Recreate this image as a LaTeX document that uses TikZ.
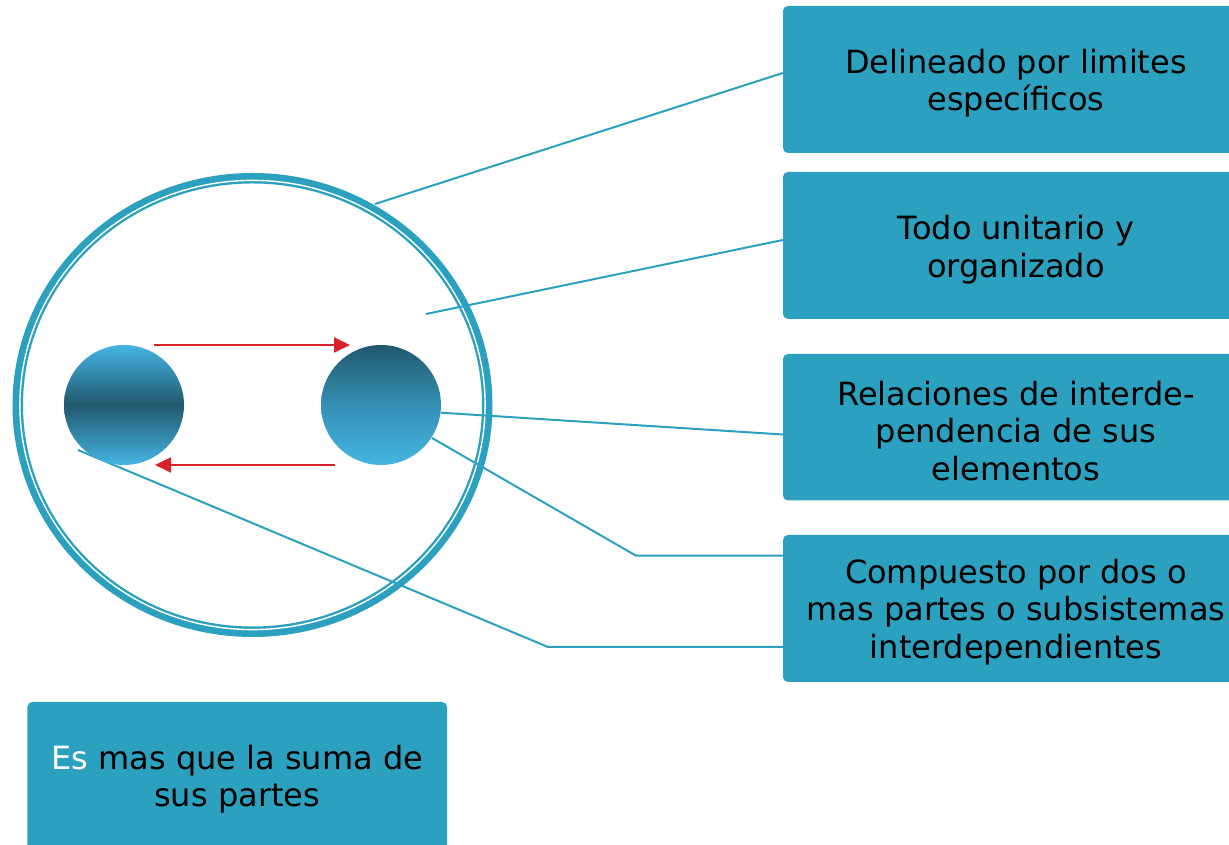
\documentclass[tikz,border=0pt]{standalone}
\usepackage{fontspec}
\setmainfont{DejaVu Sans}
\usetikzlibrary{arrows.meta,calc}
\definecolor{tealbox}{HTML}{2CA1BF}
\definecolor{tealline}{HTML}{2CA1BF}
\definecolor{arrowred}{HTML}{D7222A}
\definecolor{balllight}{HTML}{45B5E3}
\definecolor{balldark}{HTML}{21586E}
\definecolor{ballmid}{HTML}{3590B5}
\begin{document}
\begin{tikzpicture}[x=1pt,y=1pt,
  box/.style={fill=tealbox, draw=none, rounded corners=5pt, inner sep=0pt},
  boxtext/.style={text=black, align=center, font=\fontsize{32}{37.5}\selectfont, inner sep=0pt},
  conn/.style={draw=tealline, line width=2pt},
  redarrow/.style={draw=arrowred, line width=2pt, -{Triangle[length=16pt,width=15pt,fill=arrowred]}}]
\useasboundingbox (0,0) rectangle (1229,845);
\clip (0,0) rectangle (1229,845);

% boxes
\node[box, minimum width=466pt, minimum height=147pt] (b1) at (1016,765.5) {};
\node[box, minimum width=466pt, minimum height=147pt] (b2) at (1016,599.5) {};
\node[box, minimum width=466pt, minimum height=146.5pt] (b3) at (1016,417.75) {};
\node[box, minimum width=466pt, minimum height=147pt] (b4) at (1016,236.5) {};
\node[box, minimum width=419.7pt, minimum height=150pt] (b5) at (237.2,68) {};

\node[boxtext] (t1) at ([yshift=-3.5pt]b1.center) {Delineado por limites\\específicos};
\node[boxtext] (t2) at ([yshift=-4pt]b2.center) {Todo unitario y\\organizado};
\node[boxtext] (t3) at ([yshift=-3.5pt]b3.center) {Relaciones de interde-\\pendencia de sus\\elementos};
\node[boxtext] (t4) at ([yshift=-3.5pt]b4.center) {Compuesto por dos o\\mas partes o subsistemas\\interdependientes};
\node[boxtext] (t5) at ([yshift=-2pt]b5.center) {{\color{white}Es} mas que la suma de\\sus partes};

% big ring
\coordinate (rc) at (252.5,440);
\draw[draw=tealline, line width=10.5pt] (rc) ellipse [x radius=234.75, y radius=226.75];
\draw[draw=white, line width=1.4pt] (rc) ellipse [x radius=232.6, y radius=224.6];

% connector start points
\coordinate (s1) at (375,641);
\coordinate (s2) at (426,531);
\coordinate (s3) at (441,432.3);
\coordinate (s4) at (432,407);
\coordinate (k4) at (636,289.3);
\coordinate (s5) at (78,395);
\coordinate (k5) at (548,198);

\draw[conn] (s1) -- ([yshift=6.5pt]b1.west);
\draw[conn] (s2) -- ([yshift=5.5pt]b2.west);
\draw[conn] (s3) -- ([yshift=-7.25pt]b3.west);
\draw[conn] (s4) -- (k4) -- (b4.west |- k4);
\draw[conn] (s5) -- (k5) -- (b4.west |- k5);

% balls
\node[circle, minimum size=120pt, inner sep=0pt, top color=balllight, bottom color=balllight, middle color=balldark] (ballL) at (124,440) {};
\node[circle, minimum size=120pt, inner sep=0pt, top color=balldark, bottom color=balllight, middle color=ballmid] (ballR) at (381,440) {};

% red arrows
\coordinate (a1s) at (154,500);
\coordinate (a1e) at (350,500);
\coordinate (a2s) at (335,380);
\coordinate (a2e) at (155,380);
\draw[redarrow] (a1s) -- (a1e);
\draw[redarrow] (a2s) -- (a2e);
\end{tikzpicture}
\end{document}
